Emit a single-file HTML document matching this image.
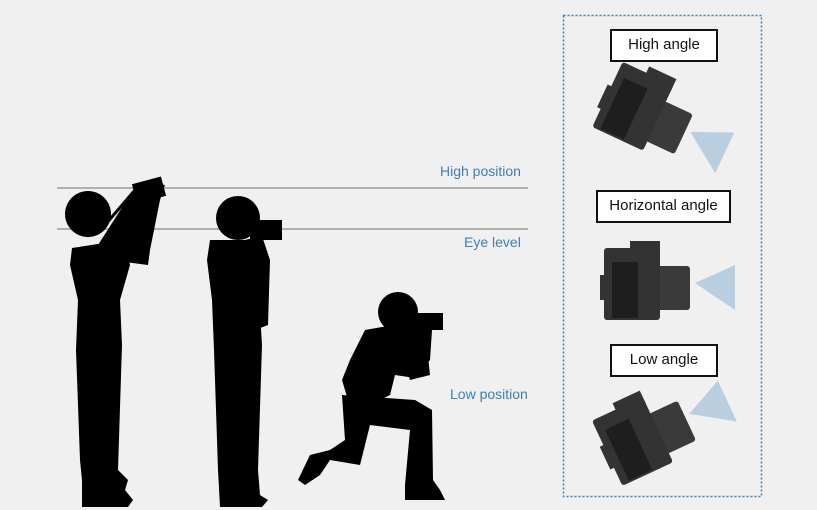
<!DOCTYPE html>
<html><head><style>
html,body{margin:0;padding:0;background:#f0f0f0;}
body{width:817px;height:510px;position:relative;overflow:hidden;font-family:"Liberation Sans",sans-serif;}
.lbl{position:absolute;color:#3d7fb5;font-size:14px;}
.box{position:absolute;border:2px solid #111;background:#fff;font-size:15px;color:#111;text-align:center;box-sizing:border-box;line-height:28px;}
</style></head><body>
<svg width="817" height="510" style="position:absolute;left:0;top:0">
<line x1="57" y1="188" x2="528" y2="188" stroke="#b0b0b0" stroke-width="2"/>
<line x1="57" y1="229" x2="528" y2="229" stroke="#b0b0b0" stroke-width="2"/>
<rect x="563.5" y="15.5" width="198" height="481" fill="none" stroke="#3d7fb5" stroke-width="1.5" stroke-dasharray="2,2"/>
<g fill="#000">
<!-- person 1 -->
<circle cx="88" cy="214" r="23"/>
<polygon points="98,245 130,195 140,182 165,185 160,200 150,250 148,265 125,262"/>
<rect x="134" y="180" width="30" height="20" transform="rotate(-15 149 190)"/>
<line x1="105" y1="225" x2="135" y2="190" stroke="#000" stroke-width="3"/>
<polygon points="72,248 124,240 130,265 120,300 122,345 118,470 128,480 125,490 133,500 128,507 82,507 82,480 80,460 76,350 78,300 70,265"/>
<!-- person 2 -->
<circle cx="238" cy="218" r="22"/>
<rect x="250" y="220" width="32" height="20"/>
<polygon points="236,242 262,236 270,260 268,325 255,330 245,270"/>
<polygon points="210,240 250,240 258,280 262,345 258,470 260,495 268,500 262,507 220,507 218,470 214,350 212,300 207,260"/>
<!-- person 3 -->
<circle cx="398" cy="312" r="20"/>
<rect x="410" y="313" width="33" height="17"/>
<polygon points="365,330 410,322 432,330 430,360 415,378 395,375 390,395 380,400 360,405 348,400 342,380 350,360"/>
<polygon points="395,320 425,328 430,375 410,380"/>
<polygon points="342,395 415,400 432,410 433,480 440,490 445,500 405,500 405,485 410,430 370,425 360,465 330,460 320,475 305,485 298,480 310,455 330,450 345,440"/>
</g>
<!-- cameras -->
<defs>
<g id="cam">
<polygon points="695,283 735,265 735,310" fill="#b9cfe0"/>
<rect x="658" y="266" width="32" height="44" rx="3" fill="#3a3a3a"/>
<rect x="604" y="248" width="56" height="72" rx="3" fill="#333"/>
<rect x="630" y="241" width="30" height="14" fill="#333"/>
<rect x="612" y="262" width="26" height="56" fill="#1e1e1e"/>
<rect x="600" y="275" width="6" height="25" fill="#333"/>
</g>
</defs>
<use href="#cam" transform="translate(0,-170) rotate(25 650 282)"/>
<use href="#cam"/>
<use href="#cam" transform="translate(-2,150) rotate(-25 650 282)"/>
</svg>
<div class="lbl" style="left:440px;top:163px">High position</div>
<div class="lbl" style="left:464px;top:234px">Eye level</div>
<div class="lbl" style="left:450px;top:386px">Low position</div>
<div class="box" style="left:610px;top:29px;width:108px;height:33px">High angle</div>
<div class="box" style="left:596px;top:190px;width:135px;height:33px">Horizontal angle</div>
<div class="box" style="left:610px;top:344px;width:108px;height:33px">Low angle</div>
</body></html>
